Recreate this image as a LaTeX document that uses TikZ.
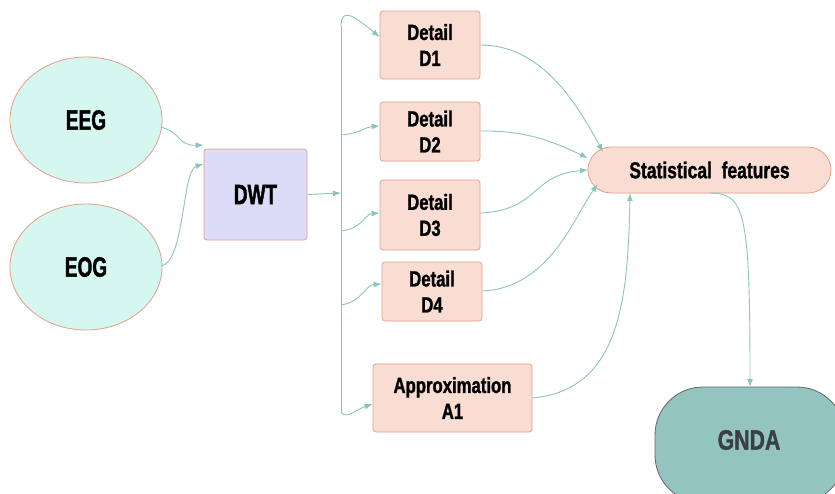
\documentclass[tikz,border=0pt]{standalone}
\usepackage{fontspec}
\setmainfont[FakeStretch=0.76,BoldFeatures={FakeBold=1.2}]{Liberation Sans}
\newfontfamily\narrowsans[FakeStretch=0.68,BoldFeatures={FakeBold=1.4}]{Liberation Sans}
\usetikzlibrary{shapes.geometric,arrows.meta}
\definecolor{tealline}{HTML}{8CC4BD}
\definecolor{salmonline}{HTML}{E0A088}
\definecolor{boxfill}{HTML}{F9DDD3}
\definecolor{sigfill}{HTML}{D6F7F0}
\definecolor{dwtfill}{HTML}{DCDCF8}
\definecolor{gndafill}{HTML}{93C4BF}
\definecolor{gndatext}{HTML}{3A3F45}
\tikzset{
  signal/.style={ellipse, draw=salmonline, fill=sigfill, line width=0.8pt,
    minimum width=152pt, minimum height=126pt, font=\narrowsans\bfseries\fontsize{28}{30}\selectfont},
  procbox/.style={rectangle, rounded corners=3pt, draw=salmonline, fill=boxfill, line width=0.8pt,
    align=center, font=\bfseries\fontsize{22}{26}\selectfont, inner sep=0pt},
  flow/.style={draw=tealline, line width=0.9pt, -{Latex[length=8pt,width=6pt]}},
}
\begin{document}
\begin{tikzpicture}[x=1pt,y=-1pt]
\useasboundingbox (0,0) rectangle (835,493);
\clip (0,0) rectangle (835,493);

% input signals and transform
\node[signal] (eeg) at (86,120) {EEG};
\node[signal] (eog) at (86,267) {EOG};
\node[rectangle, rounded corners=3pt, draw=salmonline, fill=dwtfill, line width=0.8pt,
  minimum width=103pt, minimum height=91pt, font=\narrowsans\bfseries\fontsize{28}{30}\selectfont]
  (dwt) at (255.5,194.5) {DWT};

% decomposition outputs
\node[procbox, minimum width=100pt, minimum height=68pt] (d1) at (430,45) {Detail\\D1};
\node[procbox, minimum width=100pt, minimum height=59pt] (d2) at (430,131.5) {Detail\\D2};
\node[procbox, minimum width=100pt, minimum height=70pt] (d3) at (430,215) {Detail\\D3};
\node[procbox, minimum width=100pt, minimum height=59pt] (d4) at (432,291.5) {Detail\\D4};
\node[procbox, minimum width=159pt, minimum height=68pt] (a1) at (452.5,398) {Approximation\\A1};

% feature extraction and classifier
\node[rectangle, rounded corners=23pt, draw=salmonline, fill=boxfill, line width=0.8pt,
  minimum width=243pt, minimum height=46pt, font=\bfseries\fontsize{23}{25}\selectfont]
  (sf) at (709.5,170) {Statistical\ \ features};
\node[rectangle, rounded corners=48pt, draw=gray!80!black, fill=gndafill, line width=0.8pt,
  minimum width=190pt, minimum height=116pt] (gnda) at (750,445) {};
\node[text=gndatext, font=\bfseries\fontsize{28}{30}\selectfont] (gndalabel) at (749,440) {GNDA};

% bus points
\coordinate (bt) at (341,26);
\coordinate (bin) at (341,193);
\coordinate (b2) at (341,135);
\coordinate (b3) at (341,231);
\coordinate (b4) at (341,305);
\coordinate (bb) at (341,412);

\draw[salmonline, line width=0.9pt] (bt) -- (bb);

% inputs into DWT
\draw[flow] (161,127) .. controls (182,133) and (178,146) .. (dwt.west |- 0,145);
\draw[flow] (161,266) .. controls (185,262) and (182,170) .. (dwt.west |- 0,164);
\draw[flow] (dwt.east) -- (bin);

% bus to sub-bands
\draw[flow] (bt) .. controls (341,8) and (352,14) .. (d1.west |- 0,37);
\draw[flow] (b2) .. controls (362,133) and (365,127) .. (d2.west |- 0,126);
\draw[flow] (b3) .. controls (362,229) and (365,214) .. (d3.west |- 0,213);
\draw[flow] (b4) .. controls (362,302) and (365,285) .. (d4.west |- 0,284);
\draw[flow] (bb) .. controls (346,420) and (355,410) .. (a1.west |- 0,404);

% sub-bands to features
\draw[flow] (d1.east |- 0,45) .. controls (540,45) and (575,100) .. (603,152);
\draw[flow] (d2.east |- 0,131) .. controls (530,130) and (560,145) .. (588,158);
\draw[flow] (d3.east |- 0,213) .. controls (540,210) and (530,175) .. (588,170);
\draw[flow] (d4.east |- 0,291) .. controls (550,288) and (575,215) .. (598,184);
\draw[flow] (a1.east |- 0,398) .. controls (620,390) and (628,300) .. (630,193);

% features to classifier
\draw[flow] (709,193) .. controls (745,193) and (750,210) .. (750,387);
\end{tikzpicture}
\end{document}
